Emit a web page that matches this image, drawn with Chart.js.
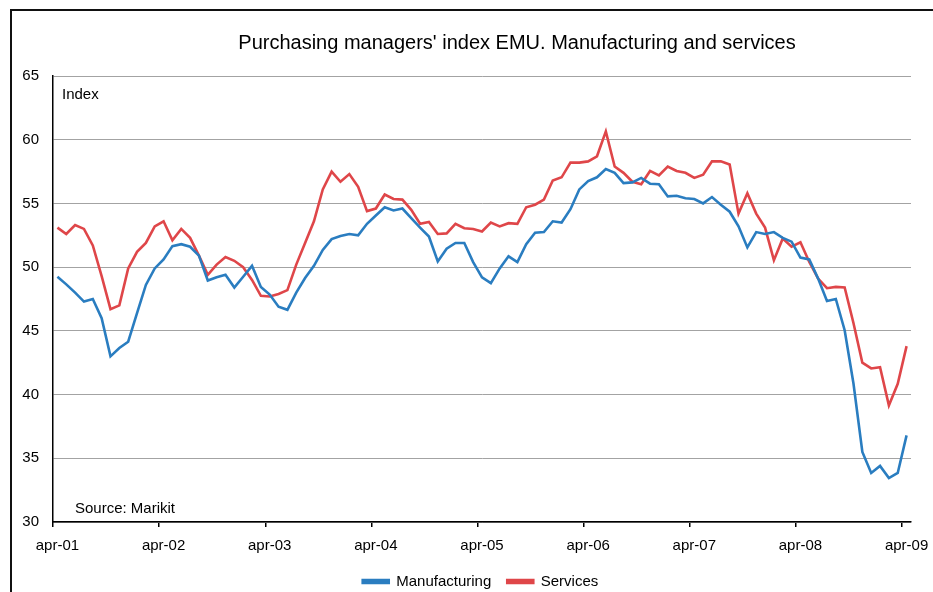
<!DOCTYPE html>
<html>
<head>
<meta charset="utf-8">
<script src="https://cdn.jsdelivr.net/npm/chart.js@4.4.1/dist/chart.umd.min.js"></script>
<style>
  html, body { margin: 0; padding: 0; background: #fff; overflow: hidden; }
  #frame { position: absolute; left: 10px; top: 9px; width: 940px; height: 600px;
           border-top: 2px solid #111; border-left: 2px solid #111; }
  #graph1 { position: absolute; left: 0; top: 0; }
</style>
</head>
<body>
<div id="frame"></div>
<canvas id="graph1" width="933" height="599"></canvas>
<script>
// months apr-01 .. apr-09
var months = ['jan', 'feb', 'mar', 'apr', 'may', 'jun', 'jul', 'aug', 'sep', 'oct', 'nov', 'dec'];
var labels = [];
for (var k = 0; k < 97; k++) {
    var m = (3 + k) % 12;
    var yr = 1 + Math.floor((3 + k) / 12);
    labels.push(months[m] + '-0' + yr);
}

var manufacturing = [
    49.25, 48.65, 48.0, 47.3, 47.5, 46.0, 43.0, 43.65, 44.15, 46.4,
    48.6, 49.9, 50.6, 51.65, 51.8, 51.6, 50.9, 48.95, 49.2, 49.4,
    48.4, 49.25, 50.1, 48.45, 47.85, 46.9, 46.65, 48.0, 49.15, 50.1,
    51.35, 52.2, 52.45, 52.6, 52.5, 53.4, 54.05, 54.7, 54.45, 54.6,
    53.85, 53.1, 52.4, 50.45, 51.45, 51.9, 51.9, 50.4, 49.2, 48.75,
    49.9, 50.85, 50.4, 51.8, 52.7, 52.75, 53.6, 53.5, 54.55, 56.1,
    56.75, 57.05, 57.7, 57.4, 56.6, 56.65, 57.0, 56.55, 56.5, 55.55,
    55.6, 55.4, 55.35, 55.0, 55.5, 54.9, 54.35, 53.2, 51.55, 52.75,
    52.6, 52.75, 52.3, 52.0, 50.75, 50.6, 49.1, 47.35, 47.5, 45.05,
    40.85, 35.5, 33.85, 34.4, 33.45, 33.85, 36.8
];

var services = [
    53.1, 52.6, 53.3, 53.0, 51.7, 49.3, 46.7, 47.0, 49.9, 51.2,
    51.9, 53.2, 53.6, 52.1, 53.0, 52.3, 50.9, 49.4, 50.2, 50.8,
    50.5, 50.0, 49.0, 47.75, 47.7, 47.9, 48.2, 50.2, 51.9, 53.6,
    56.1, 57.5, 56.7, 57.3, 56.3, 54.4, 54.6, 55.7, 55.35, 55.3,
    54.5, 53.4, 53.55, 52.6, 52.65, 53.4, 53.05, 53.0, 52.8, 53.5,
    53.2, 53.45, 53.4, 54.7, 54.9, 55.3, 56.8, 57.05, 58.2, 58.2,
    58.3, 58.7, 60.65, 57.9, 57.4, 56.7, 56.5, 57.55, 57.2, 57.9,
    57.55, 57.4, 57.0, 57.25, 58.3, 58.3, 58.05, 54.2, 55.8, 54.2,
    53.1, 50.55, 52.25, 51.6, 51.95, 50.4, 49.1, 48.35, 48.45, 48.4,
    45.6, 42.5, 42.05, 42.15, 39.15, 40.85, 43.8
];

var yMin = 30, yMax = 65, yStep = 5;
var chartTitle = "Purchasing managers' index EMU. Manufacturing and services";
var fontName = '"Liberation Sans", Arial, Helvetica, sans-serif';

// title (sits off-centre in the original) and the small texts in the plot
var notes = {
    id: 'notes',
    afterLayout: function(chart) {
        // legend is a bit right of the canvas centre too
        chart.legend.left += 25;
        chart.legend.right += 25;
    },
    afterDraw: function(chart) {
        var c = chart.ctx, a = chart.chartArea;
        c.save();
        c.fillStyle = '#000';
        c.textBaseline = 'middle';
        c.font = '20px ' + fontName;
        c.textAlign = 'center';
        c.fillText(chartTitle, 517, 43);
        c.textAlign = 'left';
        c.font = '15px ' + fontName;
        c.fillText('Index', a.left + 9, a.top + 19);
        c.fillText('Source: Marikit', a.left + 22, a.bottom - 13);
        c.restore();
    }
};

var ctx = document.getElementById('graph1');
var myChart = new Chart(ctx, {
    type: 'line',
    data: {
        labels: labels,
        datasets: [{
            label: 'Manufacturing',
            data: manufacturing,
            borderColor: '#2a7dc0',
            backgroundColor: '#2a7dc0',
            borderWidth: 2.6,
            pointRadius: 0,
            tension: 0
        },
        {
            label: 'Services',
            data: services,
            borderColor: '#df4649',
            backgroundColor: '#df4649',
            borderWidth: 2.6,
            pointRadius: 0,
            tension: 0
        }]
    },
    options: {
        responsive: false,
        animation: false,
        layout: { padding: { left: 0, right: 22, top: 76, bottom: 0 } },
        plugins: {
            title: { display: false },
            legend: {
                position: 'bottom',
                labels: {
                    color: '#000',
                    font: { family: fontName, size: 15 },
                    boxWidth: 26,
                    boxHeight: 3,
                    padding: 16
                }
            },
            tooltip: { enabled: false }
        },
        scales: {
            x: {
                offset: true,
                grid: {
                    offset: true,
                    drawOnChartArea: false,
                    drawTicks: true,
                    tickLength: 5,
                    color: function(c) { return c.index % 12 === 0 ? '#000' : 'rgba(0,0,0,0)'; },
                    lineWidth: 1.5
                },
                border: { color: '#000', width: 1.5 },
                ticks: {
                    autoSkip: false,
                    maxRotation: 0,
                    padding: 10,
                    color: '#000',
                    font: { family: fontName, size: 15 },
                    callback: function(v, i) { return i % 12 === 0 ? labels[i] : ''; }
                },
                afterFit: function(s) {
                    s.height = 36;
                    s.paddingLeft = 0;
                    s.paddingRight = 0;
                }
            },
            y: {
                min: yMin,
                max: yMax,
                ticks: {
                    stepSize: yStep,
                    padding: 14,
                    color: '#000',
                    font: { family: fontName, size: 15 }
                },
                grid: { color: '#a3a3a3', lineWidth: 1, drawTicks: false },
                border: { color: '#000', width: 1.5 },
                afterFit: function(s) { s.width = 53; }
            }
        }
    },
    plugins: [notes]
});
</script>
</body>
</html>
